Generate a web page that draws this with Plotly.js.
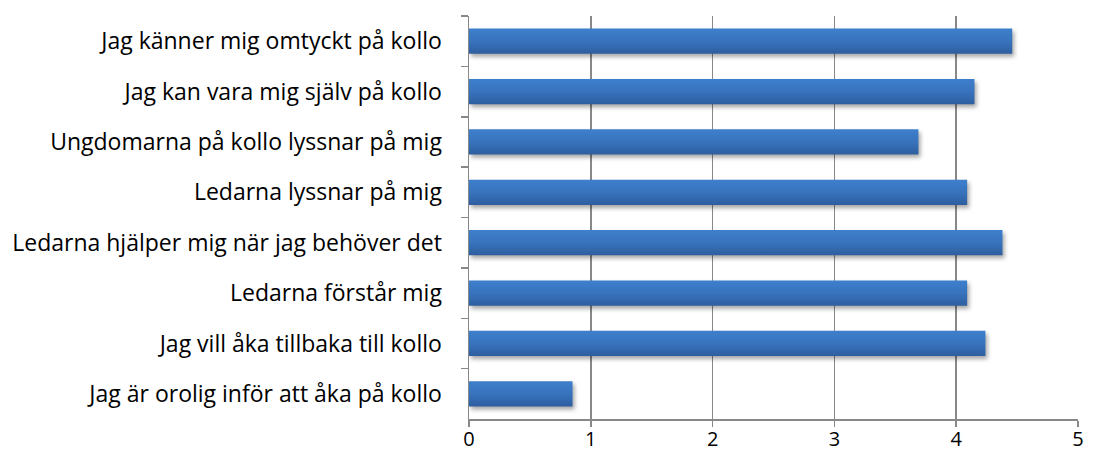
<!DOCTYPE html>
<html>
<head>
<meta charset="utf-8">
<script src="https://cdn.plot.ly/plotly-3.0.1.min.js"></script>
<style>
html,body{margin:0;padding:0;background:#fff;}
#chart{width:1101px;height:450px;}
.bars path{filter:drop-shadow(2px 3px 2px rgba(0,0,0,0.35));}
</style>
</head>
<body>
<div id="chart"></div>
<script>
const categories = [
  "Jag känner mig omtyckt på kollo",
  "Jag kan vara mig själv på kollo",
  "Ungdomarna på kollo lyssnar på mig",
  "Ledarna lyssnar på mig",
  "Ledarna hjälper mig när jag behöver det",
  "Ledarna förstår mig",
  "Jag vill åka tillbaka till kollo",
  "Jag är orolig inför att åka på kollo"
];
const values = [4.46, 4.15, 3.69, 4.09, 4.38, 4.09, 4.24, 0.85];
const xTicks = [0, 1, 2, 3, 4, 5];

const trace = {
  type: "bar",
  orientation: "h",
  y: categories,
  x: values,
  marker: {color: "#3671BA", line: {width: 0}},
  hoverinfo: "x+y"
};

const layout = {
  width: 1101,
  height: 450,
  margin: {l: 469, r: 23, t: 16, b: 31, pad: 0},
  paper_bgcolor: "#ffffff",
  plot_bgcolor: "#ffffff",
  bargap: 0.5,
  showlegend: false,
  font: {family: "Open Sans, sans-serif", size: 18, color: "#000000"},
  xaxis: {
    range: [0, 5],
    tickvals: xTicks,
    ticktext: xTicks.map(String),
    showgrid: true,
    gridcolor: "#888888",
    gridwidth: 1.5,
    zeroline: false,
    showline: true,
    linecolor: "#888888",
    linewidth: 1.5,
    ticks: "outside",
    ticklen: 6,
    tickcolor: "#888888",
    tickwidth: 1.5,
    ticklabelstandoff: -5,
    tickfont: {size: 20, color: "#000"},
    fixedrange: true
  },
  yaxis: {
    autorange: "reversed",
    type: "category",
    showgrid: false,
    zeroline: false,
    showline: true,
    linecolor: "#888888",
    linewidth: 1.5,
    ticks: "outside",
    tickson: "boundaries",
    ticklen: 7,
    tickcolor: "#888888",
    tickwidth: 1.5,
    ticklabelstandoff: 21,
    tickfont: {size: 23, color: "#000"},
    fixedrange: true
  }
};

Plotly.newPlot("chart", [trace], layout, {displayModeBar: false, staticPlot: true}).then(function(gd){
  const svg = gd.querySelector("svg.main-svg");
  const ns = "http://www.w3.org/2000/svg";
  let defs = svg.querySelector("defs");
  if (!defs) { defs = document.createElementNS(ns, "defs"); svg.insertBefore(defs, svg.firstChild); }
  const lg = document.createElementNS(ns, "linearGradient");
  lg.setAttribute("id", "barGrad");
  lg.setAttribute("x1", "0"); lg.setAttribute("y1", "0");
  lg.setAttribute("x2", "0"); lg.setAttribute("y2", "1");
  [["0", "#3E7FCD"], ["0.5", "#3873BD"], ["1", "#2D5E9F"]].forEach(function(s){
    const st = document.createElementNS(ns, "stop");
    st.setAttribute("offset", s[0]);
    st.setAttribute("stop-color", s[1]);
    lg.appendChild(st);
  });
  defs.appendChild(lg);
  gd.querySelectorAll(".bars .point path").forEach(function(p){
    p.style.fill = "url(#barGrad)";
  });
});
</script>
</body>
</html>
